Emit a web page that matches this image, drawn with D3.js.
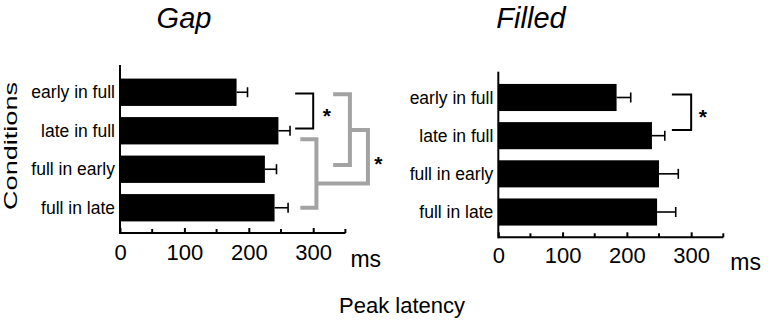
<!DOCTYPE html>
<html>
<head>
<meta charset="utf-8">
<script src="https://cdn.jsdelivr.net/npm/d3@7"></script>
<style>
  html, body { margin: 0; padding: 0; background: #fff; }
  svg { display: block; font-family: "Liberation Sans", Arial, sans-serif; }
</style>
</head>
<body>
<svg id="chart" width="768" height="320"></svg>
<script>
// ---- data ----
const categories = ["early in full", "late in full", "full in early", "full in late"];
const gapMeans   = [181, 246, 225, 240];
const gapErrors  = [198, 264, 243, 261];
const filledMeans  = [184, 239, 250, 247];
const filledErrors = [206, 259, 280, 276];
const xTicks = [0, 100, 200, 300];
const xMinorTicks = [50, 150, 250];
const panelTitles = ["Gap", "Filled"];
const xUnit = "ms";
const yTitle = "Conditions";
const xTitle = "Peak latency";
const sigMark = "*";

const svg = d3.select("#chart");
const GRAY = "#a3a3a3";

function panel(cfg) {
  const g = svg.append("g");
  const x = d3.scaleLinear().domain([0, 350]).range([cfg.x0, cfg.x1]);
  const y = d3.scaleBand().domain(categories).range([cfg.b0, cfg.b1])
    .paddingInner(0.29).paddingOuter(0.145);
  const yc = i => y(categories[0]) + y.bandwidth() / 2 + i * y.step();

  // bars
  g.selectAll("rect.bar").data(cfg.means).join("rect")
    .attr("x", x(0)).attr("y", (d, i) => y(categories[i]))
    .attr("width", d => x(d) - x(0)).attr("height", y.bandwidth())
    .attr("fill", "#000");

  // error bars
  const eb = g.selectAll("g.err").data(cfg.errors).join("g");
  eb.append("line")
    .attr("x1", (d, i) => x(cfg.means[i])).attr("x2", d => x(d))
    .attr("y1", (d, i) => yc(i)).attr("y2", (d, i) => yc(i))
    .attr("stroke", "#000").attr("stroke-width", 1.6);
  eb.append("line")
    .attr("x1", d => x(d)).attr("x2", d => x(d))
    .attr("y1", (d, i) => yc(i) - 5).attr("y2", (d, i) => yc(i) + 5)
    .attr("stroke", "#000").attr("stroke-width", 1.6);

  // x axis
  const ax = g.append("g").attr("transform", `translate(0,${cfg.axisY})`);
  ax.call(d3.axisBottom(x).tickValues(xTicks).tickSizeInner(-5).tickSizeOuter(0).tickPadding(cfg.tickPad));
  ax.select(".domain").attr("stroke-width", 2).attr("d", `M${x(0)},0H${x(350)}`);
  ax.selectAll(".tick line").attr("stroke-width", 2);
  ax.selectAll(".tick text").attr("font-size", 22).attr("font-family", "Liberation Sans, Arial, sans-serif").attr("fill", "#000");
  ax.selectAll("line.minor").data(xMinorTicks.concat([350])).join("line")
    .attr("x1", d => x(d)).attr("x2", d => x(d)).attr("y1", 0).attr("y2", -4)
    .attr("stroke", "#000").attr("stroke-width", 2);

  // y axis
  g.append("line").attr("x1", x(0)).attr("x2", x(0))
    .attr("y1", cfg.axisTop).attr("y2", cfg.axisY + 1)
    .attr("stroke", "#000").attr("stroke-width", 2);
  g.selectAll("text.ylab").data(categories).join("text")
    .attr("x", x(0) - 5).attr("y", d => y(d) + y.bandwidth() / 2)
    .attr("dy", "0.35em").attr("text-anchor", "end")
    .attr("font-size", 17.5).text(d => d);

  // unit
  g.append("text").attr("x", x(350) + cfg.unitDx).attr("y", cfg.axisY + cfg.unitDy)
    .attr("font-size", 23).text(xUnit);

  // title
  g.append("text").attr("x", cfg.titleX).attr("y", 28).attr("text-anchor", "middle")
    .attr("font-size", 29).attr("font-style", "italic").text(cfg.title);

  // significance brackets
  cfg.brackets.forEach(b => {
    const p = b.pts.map(([ms, i]) => [x(ms), yc(i)]);
    g.append("path").attr("d", d3.line()(p)).attr("fill", "none")
      .attr("stroke", b.color).attr("stroke-width", b.w).attr("stroke-linejoin", "miter");
  });
  cfg.stars.forEach(s => {
    g.append("text").attr("x", x(s[0])).attr("y", yc(s[1])).attr("dy", "0.58em")
      .attr("text-anchor", "middle").attr("font-size", 21).attr("font-weight", "bold").text(sigMark);
  });
}

panel({
  title: panelTitles[0], titleX: 184,
  means: gapMeans, errors: gapErrors,
  x0: 120, x1: 345.4, b0: 73, b1: 227, axisY: 233, axisTop: 65,
  tickPad: 11, unitDx: 5, unitDy: 34,
  brackets: [
    { color: "#000", w: 2, pts: [[272, 0.03], [300, 0.03], [300, 0.94], [272, 0.94]] },
    { color: GRAY, w: 4, pts: [[331, 0.05], [357, 0.05], [357, 1.89], [331, 1.89]] },
    { color: GRAY, w: 4, pts: [[280, 1.22], [305, 1.22], [305, 3.0], [280, 3.0]] },
    { color: GRAY, w: 4, pts: [[357, 0.98], [385, 0.98], [385, 2.37], [305, 2.37]] }
  ],
  stars: [[321, 0.49], [401, 1.72]]
});

panel({
  title: panelTitles[1], titleX: 531,
  means: filledMeans, errors: filledErrors,
  x0: 498.3, x1: 723.3, b0: 78.4, b1: 231.1, axisY: 237.3, axisTop: 71.7,
  tickPad: 10, unitDx: 7, unitDy: 33,
  brackets: [
    { color: "#000", w: 2, pts: [[270, -0.08], [300, -0.08], [300, 0.85], [270, 0.85]] }
  ],
  stars: [[318, 0.37]]
});

// shared titles
svg.append("text").attr("transform", "translate(16.5,146) rotate(-90)")
  .attr("text-anchor", "middle").attr("font-size", 18.5)
  .attr("textLength", 128).attr("lengthAdjust", "spacingAndGlyphs").text(yTitle);
svg.append("text").attr("x", 402).attr("y", 313).attr("text-anchor", "middle")
  .attr("font-size", 22).text(xTitle);
</script>
</body>
</html>
